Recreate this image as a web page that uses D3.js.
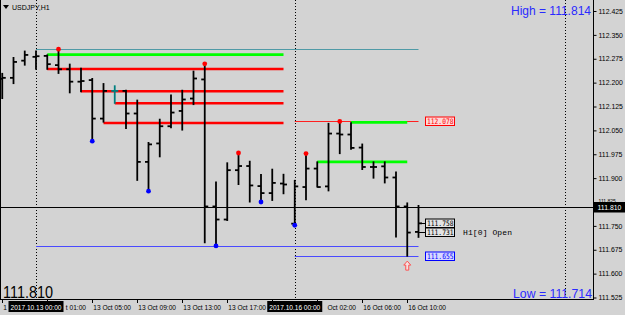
<!DOCTYPE html>
<html>
<head>
<meta charset="utf-8">
<script src="https://cdn.jsdelivr.net/npm/d3@7"></script>
<style>
  body { margin: 0; background: #d3d3d3; }
  svg { display: block; }
</style>
</head>
<body>
<div id="chart"></div>
<script>
// USDJPY H1 bars, 12 Oct 21:00 .. 16 Oct 11:00
const opens  = [112.212, 112.215, 112.269, 112.281, 112.284, 112.255, 112.242, 112.203, 112.208, 112.087,
                112.174, 112.174, 112.103, 111.951, 112.009, 112.063, 112.111, 112.150, 112.210, 111.811,
                111.770, 111.925, 111.938, 111.875, 111.853, 111.883, 111.757, 111.872, 111.930, 111.874,
                112.040, 112.037, 111.996, 111.935, 111.937, 111.902, 111.811, 111.731];
const highs  = [112.229, 112.279, 112.299, 112.299, 112.287, 112.305, 112.258, 112.245, 112.213, 112.197,
                112.190, 112.176, 112.145, 112.012, 112.085, 112.161, 112.176, 112.236, 112.259, 111.888,
                111.948, 111.979, 111.953, 111.911, 111.928, 111.912, 111.893, 111.977, 111.951, 112.072,
                112.078, 112.074, 112.007, 111.951, 111.951, 111.919, 111.822, 111.814];
const lows   = [112.150, 112.197, 112.255, 112.242, 112.242, 112.229, 112.168, 112.171, 112.016, 112.076,
                112.135, 112.056, 111.893, 111.859, 111.967, 112.058, 112.051, 112.131, 111.697, 111.687,
                111.767, 111.880, 111.825, 111.825, 111.830, 111.851, 111.752, 111.832, 111.872, 111.860,
                111.977, 111.991, 111.927, 111.900, 111.885, 111.715, 111.655, 111.714];
const closes = [112.215, 112.265, 112.287, 112.283, 112.258, 112.242, 112.203, 112.205, 112.087, 112.174,
                112.174, 112.103, 111.951, 112.006, 112.063, 112.106, 112.147, 112.213, 111.811, 111.770,
                111.925, 111.938, 111.877, 111.853, 111.885, 111.880, 111.874, 111.930, 111.872, 112.040,
                112.037, 111.995, 111.935, 111.935, 111.902, 111.811, 111.729, 111.758];
const highlightBar = 10;

// fractal markers (bar index)
const upFractals = [5, 18, 21, 27, 30];
const downFractals = [8, 13, 19, 23, 26];

// levels: [price, from bar, to bar]
const redLevels = [[112.243, 4, 25], [112.173, 7, 25], [112.135, 10, 25], [112.073, 9, 25]];
const greenLevels = [[112.288, 4, 25], [112.075, 31, 36], [111.951, 28, 36]];

// day ranges: [first bar, last bar]
const days = [[3, 25], [26, 37]];
const separators = [[3, "2017.10.13 00:00"], [26, "2017.10.16 00:00"]];
const futureSeparator = 50;

const timeTicks = [[0, "12 Oct 21:00"], [4, "13 Oct 01:00"], [8, "13 Oct 05:00"], [12, "13 Oct 09:00"],
                   [16, "13 Oct 13:00"], [20, "13 Oct 17:00"], [24, "13 Oct 21:00"], [28, "16 Oct 02:00"],
                   [32, "16 Oct 06:00"], [36, "16 Oct 10:00"]];
const priceTicks = [112.425, 112.350, 112.275, 112.200, 112.125, 112.050, 111.975, 111.900,
                    111.825, 111.750, 111.675, 111.600, 111.525];

const hLinePrice = 111.810;
const bidPrice = 111.758;
const openPrice = 111.731;
const dayHighText = 111.814;
const dayLowText = 111.714;
const symbolText = "USDJPY,H1";

const W = 625, H = 315;
const right = 593, bottom = 299;

const x = d3.scaleLinear().domain([0, 50]).range([2.25, 564.75]);
const y = d3.scaleLinear().domain([111.525, 112.425]).range([297.5, 11]);
const crisp = (v) => Math.round(v) + 0.5;

const svg = d3.select("#chart").append("svg")
  .attr("width", W)
  .attr("height", H);

svg.append("rect").attr("width", W).attr("height", H).attr("fill", "#d3d3d3");

const plot = svg.append("g");

// period separators
plot.selectAll(".sep")
  .data(separators.map((d) => d[0]).concat([futureSeparator]))
  .enter()
  .append("line")
  .attr("x1", (d) => crisp(x(d)))
  .attr("x2", (d) => crisp(x(d)))
  .attr("y1", 0)
  .attr("y2", bottom)
  .attr("stroke", "#000")
  .attr("stroke-dasharray", "1,2");

// horizontal line object
plot.append("line")
  .attr("x1", 0).attr("x2", right)
  .attr("y1", crisp(y(hLinePrice))).attr("y2", crisp(y(hLinePrice)))
  .attr("stroke", "#000");

// day high / low lines
days.forEach((d, k) => {
  const hi = d3.max(highs.slice(d[0], d[1] + 1));
  const lo = d3.min(lows.slice(d[0], d[1] + 1));
  plot.append("line")
    .attr("x1", x(d[0])).attr("x2", x(37))
    .attr("y1", crisp(y(hi))).attr("y2", crisp(y(hi)))
    .attr("stroke", k === 0 ? "#4f9aa6" : "#ff2020").attr("stroke-width", 1);
  plot.append("line")
    .attr("x1", x(d[0])).attr("x2", x(37))
    .attr("y1", crisp(y(lo))).attr("y2", crisp(y(lo)))
    .attr("stroke", "#4a4aff").attr("stroke-width", 1);
});

// level lines
plot.selectAll(".red")
  .data(redLevels)
  .enter()
  .append("line")
  .attr("x1", (d) => x(d[1])).attr("x2", (d) => x(d[2]))
  .attr("y1", (d) => y(d[0])).attr("y2", (d) => y(d[0]))
  .attr("stroke", "#ff0000").attr("stroke-width", 2.6);

plot.selectAll(".green")
  .data(greenLevels)
  .enter()
  .append("line")
  .attr("x1", (d) => x(d[1])).attr("x2", (d) => x(d[2]))
  .attr("y1", (d) => y(d[0])).attr("y2", (d) => y(d[0]))
  .attr("stroke", "#00ff00").attr("stroke-width", 2.6);

// OHLC bars
const bars = plot.selectAll(".bar")
  .data(d3.range(opens.length))
  .enter()
  .append("g")
  .attr("stroke", (i) => i === highlightBar ? "#008080" : "#000")
  .attr("stroke-width", 1.8);

bars.append("line")
  .attr("x1", (i) => x(i)).attr("x2", (i) => x(i))
  .attr("y1", (i) => y(highs[i]) - 0.5).attr("y2", (i) => y(lows[i]) + 0.5);
bars.append("line")
  .attr("x1", (i) => x(i) - 3.5).attr("x2", (i) => x(i))
  .attr("y1", (i) => y(opens[i])).attr("y2", (i) => y(opens[i]));
bars.append("line")
  .attr("x1", (i) => x(i)).attr("x2", (i) => x(i) + 3.5)
  .attr("y1", (i) => y(closes[i])).attr("y2", (i) => y(closes[i]));

// fractals
plot.selectAll(".up")
  .data(upFractals)
  .enter()
  .append("circle")
  .attr("cx", (i) => x(i))
  .attr("cy", (i) => y(highs[i]))
  .attr("r", 2.4)
  .attr("fill", "#ff0000");

plot.selectAll(".down")
  .data(downFractals)
  .enter()
  .append("circle")
  .attr("cx", (i) => x(i))
  .attr("cy", (i) => y(lows[i]))
  .attr("r", 2.4)
  .attr("fill", "#0000ff");

// arrow under the low bar
const lowBar = d3.minIndex(lows);
const ax = x(lowBar), ay = y(lows[lowBar]) + 5;
plot.append("path")
  .attr("d", "M" + ax + "," + ay + " l3.5,4 h-2 v5 h-3 v-5 h-2 z")
  .attr("fill", "#f4e0e0")
  .attr("stroke", "#ff5050")
  .attr("stroke-width", 1);

// price labels at the right of the current bar
const last = opens.length - 1;
const labelBoxes = [
  [d3.max(highs.slice(days[1][0])), "#ff0000", "#ffd8d8"],
  [bidPrice, "#000", "#e4e4e4"],
  [openPrice, "#000", "#e4e4e4"],
  [d3.min(lows.slice(days[1][0])), "#0000ff", "#d8d8ff"]
];
[bidPrice, openPrice].forEach((p) => {
  plot.append("line")
    .attr("x1", x(last)).attr("x2", 426)
    .attr("y1", crisp(y(p))).attr("y2", crisp(y(p)))
    .attr("stroke", "#000").attr("stroke-width", 1);
});
const lb = plot.selectAll(".lbox")
  .data(labelBoxes)
  .enter()
  .append("g")
  .attr("transform", (d) => "translate(425.5," + Math.round(y(d[0]) - 4) + ")");
lb.append("rect")
  .attr("width", 29).attr("height", 8.5)
  .attr("fill", (d) => d[2])
  .attr("stroke", (d) => d[1]);
lb.append("text")
  .attr("x", 1.5).attr("y", 7.3)
  .attr("font-family", "DejaVu Sans Mono")
  .attr("font-size", 7.4)
  .attr("textLength", 26.5)
  .attr("lengthAdjust", "spacingAndGlyphs")
  .attr("fill", (d) => d[1])
  .text((d) => d[0].toFixed(3));

plot.append("text")
  .attr("x", 463).attr("y", y(openPrice) + 2.8)
  .attr("font-family", "Liberation Mono")
  .attr("font-size", 8)
  .attr("textLength", 49)
  .attr("fill", "#000")
  .text("H1[0] Open");

// frame
svg.append("line").attr("x1", 0.5).attr("x2", 0.5).attr("y1", 0).attr("y2", bottom).attr("stroke", "#000");
svg.append("line").attr("x1", 0).attr("x2", right).attr("y1", bottom + 0.5).attr("y2", bottom + 0.5).attr("stroke", "#000");

// price axis
const cpTop = Math.round(y(hLinePrice) - 5);
svg.append("clipPath").attr("id", "aboveBox")
  .append("rect").attr("x", right).attr("y", 0).attr("width", W - right).attr("height", cpTop);

const yAxis = d3.axisRight(y).tickValues(priceTicks).tickSize(3).tickPadding(2)
  .tickFormat((d) => d.toFixed(3));
const ya = svg.append("g")
  .attr("transform", "translate(" + (right + 0.5) + ",0)")
  .call(yAxis);
ya.select(".domain").attr("d", "M0,0V" + (bottom + 1));
ya.selectAll("text").attr("font-family", "Liberation Sans").attr("font-size", 6.9).attr("fill", "#000");
// the tick label hidden behind the current price box only shows its top
ya.selectAll(".tick")
  .filter((d) => Math.abs(y(d) - y(hLinePrice)) < 8)
  .select("text")
  .attr("font-size", 5)
  .attr("dy", "0.1em");

// current price box on the axis
const cp = svg.append("g").attr("transform", "translate(" + (right + 1) + "," + cpTop + ")");
cp.append("rect").attr("width", W - right).attr("height", 10.5).attr("fill", "#000");
cp.append("text").attr("x", 3.5).attr("y", 8).attr("font-family", "Liberation Sans").attr("font-size", 6.9)
  .attr("fill", "#fff").text(hLinePrice.toFixed(3));

// time axis
const boxW = 55;
const boxSpans = separators.map((d) => [x(d[0]) - boxW / 2, x(d[0]) + boxW / 2]);
const ta = svg.append("g");
ta.selectAll(".tt")
  .data(timeTicks)
  .enter()
  .append("line")
  .attr("x1", (d) => crisp(x(d[0]))).attr("x2", (d) => crisp(x(d[0])))
  .attr("y1", bottom).attr("y2", bottom + 4)
  .attr("stroke", "#000");

// labels partly hidden behind the separator boxes keep only their visible part
timeTicks.forEach((d) => {
  const t = ta.append("text")
    .attr("x", x(d[0]) + 1)
    .attr("y", 310)
    .attr("font-family", "Liberation Sans")
    .attr("font-size", 6.6)
    .attr("fill", "#000")
    .text(d[1]);
  let s = x(d[0]) + 1;
  let str = d[1];
  boxSpans.forEach((b) => {
    const w = t.node().getComputedTextLength();
    if (s < b[1] && s + w > b[0]) {
      if (s < b[0]) {
        while (str.length && t.node().getComputedTextLength() > b[0] - s - 0.5) {
          str = str.slice(0, -1);
          t.text(str);
        }
      } else {
        const end = s + w;
        while (str.length && end - t.node().getComputedTextLength() < b[1] + 1) {
          str = str.slice(1);
          t.text(str);
        }
        s = end - t.node().getComputedTextLength();
        t.attr("x", s);
      }
    }
  });
  if (!str.trim().length) t.remove();
});

const sb = ta.selectAll(".sb")
  .data(separators)
  .enter()
  .append("g")
  .attr("transform", (d) => "translate(" + (x(d[0]) - boxW / 2) + "," + (bottom + 2) + ")");
sb.append("rect").attr("width", boxW).attr("height", 11).attr("fill", "#000");
sb.append("text").attr("x", 2).attr("y", 8.8)
  .attr("font-family", "Liberation Sans").attr("font-size", 6.6)
  .attr("textLength", 51).attr("fill", "#fff")
  .text((d) => d[1]);

// header
svg.append("path").attr("d", "M3,5 h6 l-3,4 z").attr("fill", "#000");
svg.append("text").attr("x", 12).attr("y", 10)
  .attr("font-family", "Liberation Sans").attr("font-size", 7)
  .attr("fill", "#000").text(symbolText);

svg.append("text").attr("x", 511).attr("y", 15)
  .attr("font-family", "Liberation Sans").attr("font-size", 13)
  .attr("textLength", 80).attr("lengthAdjust", "spacingAndGlyphs")
  .attr("fill", "#2a2aff").text("High = " + dayHighText.toFixed(3));

svg.append("text").attr("x", 513).attr("y", 298)
  .attr("font-family", "Liberation Sans").attr("font-size", 13)
  .attr("textLength", 79).attr("lengthAdjust", "spacingAndGlyphs")
  .attr("fill", "#2a2aff").text("Low = " + dayLowText.toFixed(3));

svg.append("text").attr("x", 3).attr("y", 298)
  .attr("font-family", "Liberation Sans").attr("font-size", 16)
  .attr("textLength", 50).attr("lengthAdjust", "spacingAndGlyphs")
  .attr("fill", "#000").text(hLinePrice.toFixed(3));
</script>
</body>
</html>
